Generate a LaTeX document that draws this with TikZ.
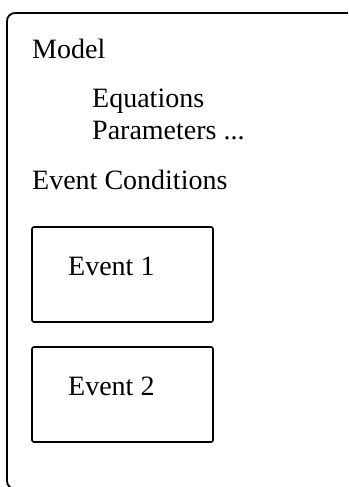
\documentclass[tikz,border=0pt]{standalone}
\usepackage{fontspec}
\setmainfont{Liberation Serif}
\usetikzlibrary{positioning,calc}
\tikzset{
  mframe/.style={draw, line width=1.8pt, rounded corners=8pt},
  mevent/.style={draw, line width=1.6pt, rounded corners=2pt, minimum width=181pt, minimum height=95pt, inner sep=0pt, outer sep=0pt},
  mtext/.style={anchor=base west, inner sep=0pt, font=\fontsize{28}{32}\selectfont}
}
\begin{document}
\begin{tikzpicture}[x=1pt,y=-1pt]
\useasboundingbox (0,0) rectangle (348,487);
\clip (0,0) rectangle (348,487);
\draw[mframe] (7,13) rectangle (360,489);
\node[mtext] (model) at (32,59) {Model};
\node[mtext] (equations) at (92,107) {Equations};
\node[mtext] (parameters) at (92,139) {Parameters ...};
\node[mtext] (conditions) at (32,189) {Event Conditions};
\node[mevent] (event1) at (122.5,274.5) {};
\node[mevent] (event2) at (122.5,394.5) {};
\node[mtext] (event1text) at (68,275) {Event 1};
\node[mtext] (event2text) at (68,395) {Event 2};
\end{tikzpicture}
\end{document}
